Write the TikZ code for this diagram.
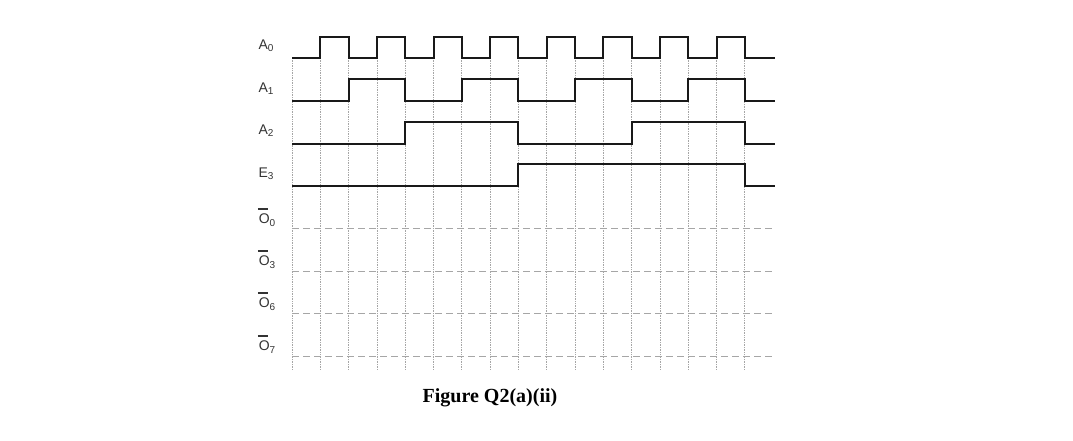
\documentclass[tikz,border=0pt]{standalone}
\usepackage{fontspec}
\setmainfont{Liberation Serif}
\newfontfamily\arial{Liberation Sans}
\newcommand{\sbs}[1]{\raisebox{-0.3ex}{\fontsize{10}{11}\selectfont #1}}
\newcommand{\barO}[1]{\rlap{\hspace{-1pt}\rule[14pt]{10pt}{2pt}}O\sbs{#1}}
\begin{document}
\begin{tikzpicture}[x=1pt,y=-1pt,
  sig/.style={line width=2pt,black!90,line join=miter},
  grid/.style={gray!70,densely dotted,line width=0.7pt},
  outl/.style={gray!70,line width=1pt,dash pattern=on 7pt off 4pt},
  lbl/.style={font=\arial\fontsize{14}{16}\selectfont,anchor=center,text=black!80}]
\useasboundingbox (0,0) rectangle (1073,441);
\def\s{28.3}
\foreach \i in {0,...,16} \draw[grid] (292+\i*\s,58) -- (292+\i*\s,370);
\foreach \y in {228,271,313,356} \draw[outl] (292,\y) -- (775,\y);
% A0
\draw[sig] (292,58) \foreach \i in {1,3,...,15} {-- (292+\i*\s,58) -- (292+\i*\s,37) -- (292+\i*\s+\s,37) -- (292+\i*\s+\s,58)} -- (775,58);
% A1
\draw[sig] (292,101) \foreach \i in {2,6,10,14} {-- (292+\i*\s,101) -- (292+\i*\s,79) -- (292+\i*\s+2*\s,79) -- (292+\i*\s+2*\s,101)} -- (775,101);
% A2
\draw[sig] (292,144) \foreach \i in {4,12} {-- (292+\i*\s,144) -- (292+\i*\s,122) -- (292+\i*\s+4*\s,122) -- (292+\i*\s+4*\s,144)} -- (775,144);
% E3
\draw[sig] (292,186) -- (292+8*\s,186) -- (292+8*\s,164) -- (292+16*\s,164) -- (292+16*\s,186) -- (775,186);
\node[lbl] (a0) at (266,46) {A\sbs{0}};
\node[lbl] (a1) at (266,89) {A\sbs{1}};
\node[lbl] (a2) at (266,131) {A\sbs{2}};
\node[lbl] (e3) at (266,174) {E\sbs{3}};
\node[lbl] (o0) at (267,217) {\barO{0}};
\node[lbl] (o3) at (267,259) {\barO{3}};
\node[lbl] (o6) at (267,301) {\barO{6}};
\node[lbl] (o7) at (267,344) {\barO{7}};
\node[font=\bfseries\fontsize{20}{24}\selectfont] (cap) at (490,398) {Figure Q2(a)(ii)};
\end{tikzpicture}
\end{document}
